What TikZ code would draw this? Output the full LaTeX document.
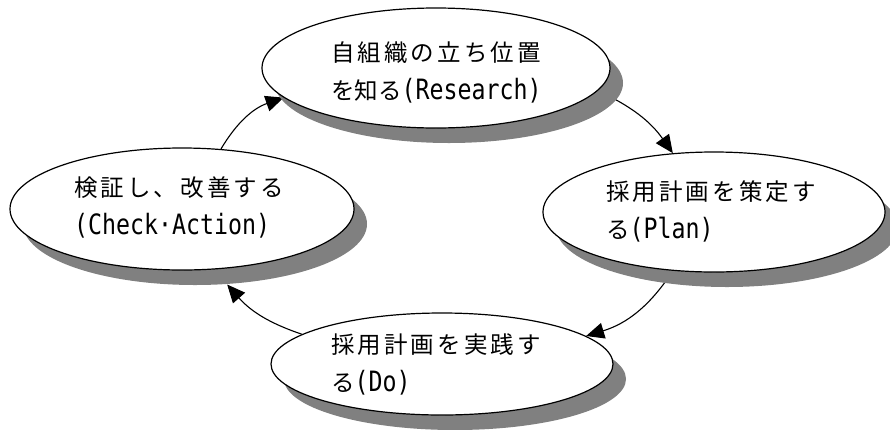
\documentclass[tikz,border=0pt]{standalone}
\usepackage{fontspec}
\newfontfamily\jpfont{Noto Sans CJK JP}
\newfontfamily\ltfont[FakeStretch=0.83]{DejaVu Sans Mono}
\usetikzlibrary{shapes.geometric,shadows,arrows.meta}
\pgfdeclarelayer{background}
\pgfsetlayers{background,main}
\makeatletter
\newcommand\spacedjp[1]{\@tfor\sj@c:=#1\do{\sj@c\kern3.1pt}}
\makeatother
\newcommand\lt[1]{{\ltfont\fontsize{28}{28}\selectfont #1}}
\tikzset{
  ell/.style={ellipse, draw, line width=1.2pt, fill=white, inner sep=0pt,
    drop shadow={shadow xshift=13pt, shadow yshift=-15pt, fill=black!50, opacity=1}},
  txt/.style={anchor=base west, inner sep=0pt, font=\jpfont\fontsize{23.5}{23.5}\selectfont},
  conn/.style={line width=1.1pt, -{Triangle[length=18pt,width=16pt]}}
}
\begin{document}
\begin{tikzpicture}[x=1pt,y=-1pt]
\useasboundingbox (0,0) rectangle (890,429);
% ellipses
\node[ell, minimum width=348pt, minimum height=120pt] (research) at (436,68) {};
\node[ell, minimum width=342pt, minimum height=120pt] (plan) at (714,212) {};
\node[ell, minimum width=342pt, minimum height=102pt] (do) at (442,364) {};
\node[ell, minimum width=344pt, minimum height=122pt] (check) at (182,209) {};
% texts
\node[txt] (researchA) at (331,61) {\spacedjp{自組織の立ち位置}};
\node[txt] (researchB) at (331,99) {を知る\lt{(Research)}};
\node[txt] (planA) at (606,200.5) {\spacedjp{採用計画を策定す}};
\node[txt] (planB) at (606,238.5) {る\lt{(Plan)}};
\node[txt] (doA) at (331,353.5) {\spacedjp{採用計画を実践す}};
\node[txt] (doB) at (331,391.5) {る\lt{(Do)}};
\node[txt] (checkA) at (74,196.5) {\spacedjp{検証し、改善する}};
\node[txt] (checkB) at (74,234.5) {\lt{(Check·Action)}};
% connectors
\begin{pgfonlayer}{background}
\draw[conn] (check.57) to[bend left=20] (research.191);
\draw[conn] (research.-8) to[bend left=15] (plan.125);
\draw[conn] (plan.235) to[bend left=20] (do.11);
\draw[conn] (do.168) to[bend left=15] ([shift={(13pt,-15pt)}]check.298);
\end{pgfonlayer}
\end{tikzpicture}
\end{document}
